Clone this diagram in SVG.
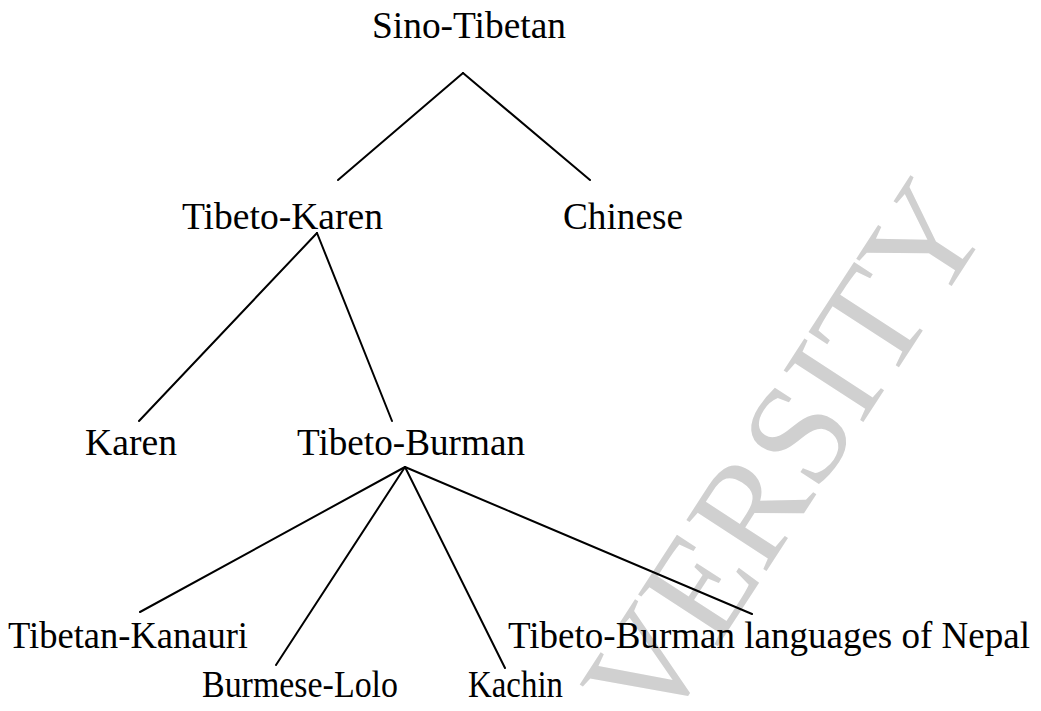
<svg xmlns="http://www.w3.org/2000/svg" width="1041" height="711" viewBox="0 0 1041 711">
<style>
.lbl{font-family:"Liberation Serif","Times New Roman",serif;font-size:37px;fill:#000}
.wm{font-family:"Liberation Serif","Times New Roman",serif;font-size:145px;fill:#d0d0d0}
.edge{stroke:#000;stroke-width:2;fill:none;stroke-linecap:round}
</style>
<rect width="1041" height="711" fill="#fff"/>
<text class="wm" text-anchor="end" transform="translate(992,224) rotate(-57)">VERSITY</text>
<g id="connectors">
<line class="edge" x1="463" y1="73" x2="338" y2="180"/>
<line class="edge" x1="463" y1="73" x2="590" y2="180"/>
<line class="edge" x1="317" y1="233" x2="139" y2="421"/>
<line class="edge" x1="317" y1="233" x2="392" y2="421"/>
<line class="edge" x1="405" y1="467" x2="140" y2="612"/>
<line class="edge" x1="405" y1="467" x2="276" y2="665"/>
<line class="edge" x1="405" y1="467" x2="505" y2="668"/>
<line class="edge" x1="405" y1="467" x2="752" y2="614"/>
</g>
<g id="sino-tibetan"><text class="lbl" x="372" y="38" textLength="194" lengthAdjust="spacingAndGlyphs">Sino-Tibetan</text></g>
<g id="tibeto-karen"><text class="lbl" x="182" y="229" textLength="201" lengthAdjust="spacingAndGlyphs">Tibeto-Karen</text></g>
<g id="chinese"><text class="lbl" x="563" y="229" textLength="120" lengthAdjust="spacingAndGlyphs">Chinese</text></g>
<g id="karen"><text class="lbl" x="85" y="455" textLength="92" lengthAdjust="spacingAndGlyphs">Karen</text></g>
<g id="tibeto-burman"><text class="lbl" x="297" y="455" textLength="228" lengthAdjust="spacingAndGlyphs">Tibeto-Burman</text></g>
<g id="tibetan-kanauri"><text class="lbl" x="8" y="648" textLength="240" lengthAdjust="spacingAndGlyphs">Tibetan-Kanauri</text></g>
<g id="burmese-lolo"><text class="lbl" x="202" y="697" textLength="196" lengthAdjust="spacingAndGlyphs">Burmese-Lolo</text></g>
<g id="kachin"><text class="lbl" x="468" y="697" textLength="95" lengthAdjust="spacingAndGlyphs">Kachin</text></g>
<g id="tb-nepal"><text class="lbl" x="508" y="648" textLength="522" lengthAdjust="spacingAndGlyphs">Tibeto-Burman languages of Nepal</text></g>
</svg>
